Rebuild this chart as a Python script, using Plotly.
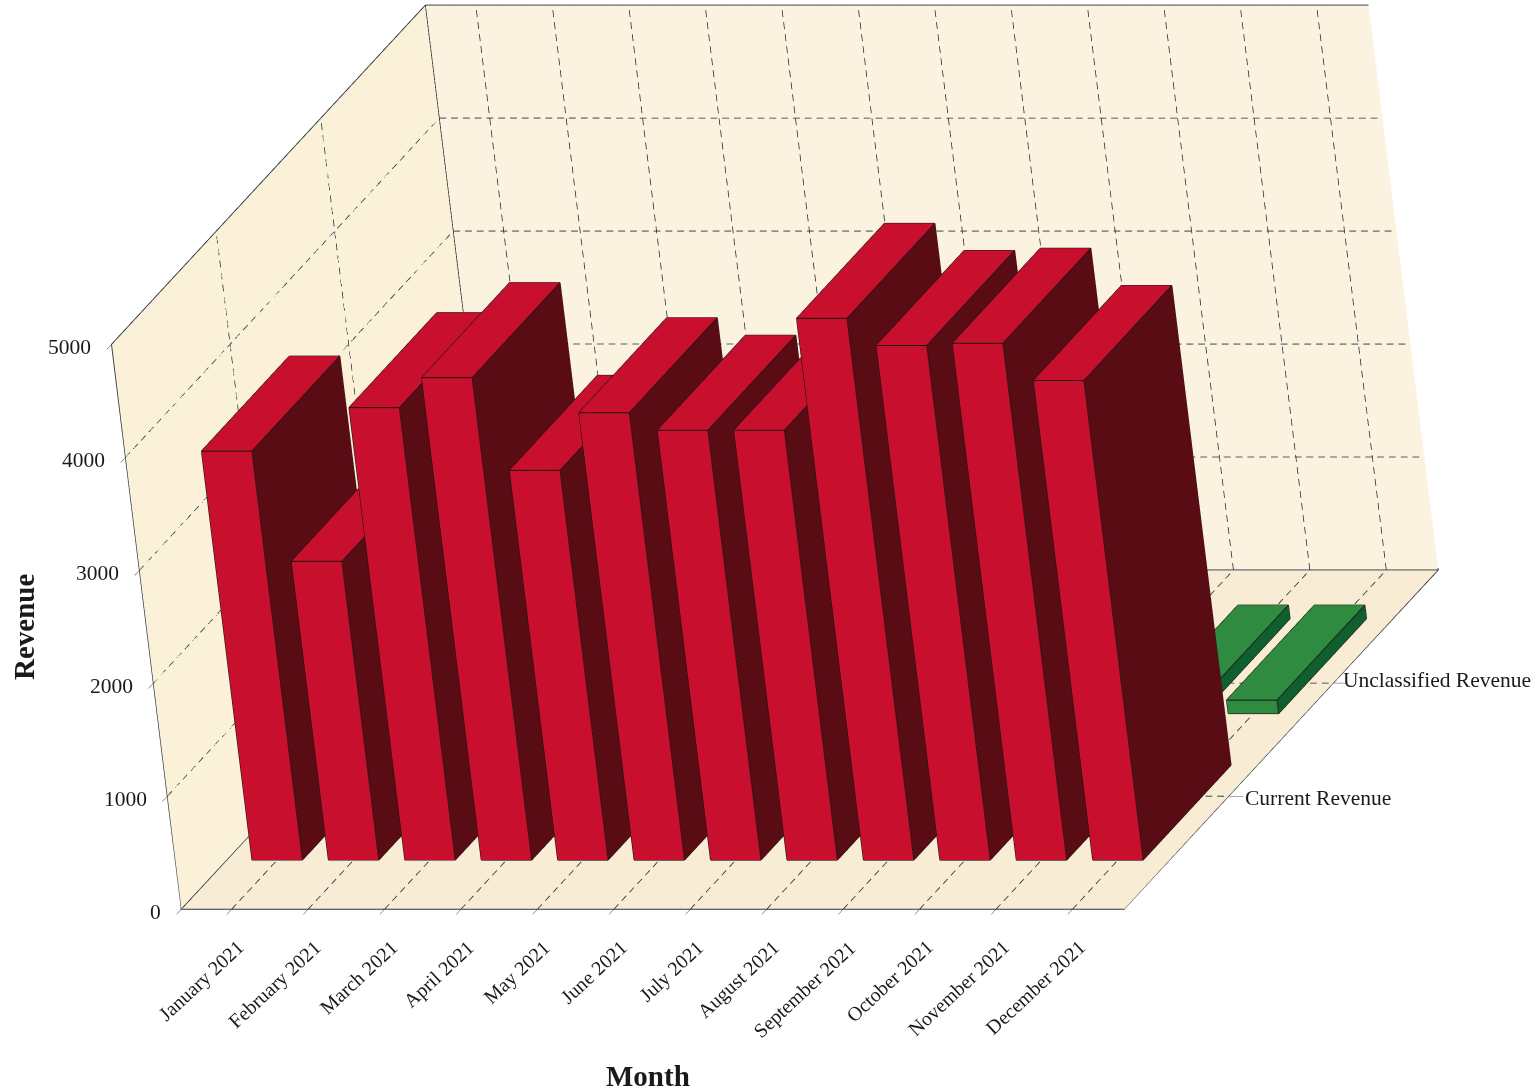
import plotly.graph_objects as go

months = ["January 2021","February 2021","March 2021","April 2021","May 2021","June 2021",
          "July 2021","August 2021","September 2021","October 2021","November 2021","December 2021"]
series = ["Current Revenue","Unclassified Revenue"]
current = [3620,2645,4005,4270,3450,3960,3805,3805,4795,4555,4575,4245]
unclassified = [0,0,0,0,0,0,0,0,0,0,120,120]
z_ticks = [0,1000,2000,3000,4000,5000]

FONT = "Liberation Serif"
INK = "#1a1a1a"
XR = (-0.66, 11.68); YR = (0, 3); ZR = (0, 5000)
Y_TICKS = [1, 2]
Y_LABEL_SHIFT = [(14,-2),(7,3)]
ROW_POS = [0.855, 2.15]
BW = 0.33; BD = 0.42
SCALE = 1.814
VIEW = (0.338,-0.884,0.323)
UP = (0,0.343,0.939)
CENTER = (-0.012,-0.059,-0.150)
DIST = 1.05

def bars(vals, row, c_front, c_top, c_side, name):
    xs, ys, zs, i, j, k, fc = [], [], [], [], [], [], []
    lx, ly, lz = [], [], []
    for c, v in enumerate(vals):
        if v <= 0:
            continue
        x0, x1, y0, y1 = c-BW, c+BW, row-BD, row+BD
        n = len(xs)
        xs += [x0,x1,x1,x0,x0,x1,x1,x0]
        ys += [y0,y0,y1,y1,y0,y0,y1,y1]
        zs += [0,0,0,0,v,v,v,v]
        faces = [((0,1,5),c_front),((0,5,4),c_front),((1,2,6),c_side),((1,6,5),c_side),
                 ((4,5,6),c_top),((4,6,7),c_top),((0,3,7),c_side),((0,7,4),c_side),
                 ((3,2,6),c_front),((3,6,7),c_front)]
        for (a,b,d),col in faces:
            i.append(n+a); j.append(n+b); k.append(n+d); fc.append(col)
        for a,b in [(0,1),(1,2),(4,5),(5,6),(6,7),(7,4),(0,4),(1,5),(2,6)]:
            lx += [xs[n+a],xs[n+b],None]; ly += [ys[n+a],ys[n+b],None]; lz += [zs[n+a],zs[n+b],None]
    return [go.Mesh3d(x=xs,y=ys,z=zs,i=i,j=j,k=k,facecolor=fc,flatshading=True,name=name,
                      lighting=dict(ambient=1,diffuse=0,specular=0,fresnel=0,roughness=1),hoverinfo="skip"),
            go.Scatter3d(x=lx,y=ly,z=lz,mode="lines",line=dict(color="#1c1210",width=2),hoverinfo="skip",showlegend=False)]

def seg(pairs):
    X,Y,Z=[],[],[]
    for a,b in pairs:
        X+=[a[0],b[0],None];Y+=[a[1],b[1],None];Z+=[a[2],b[2],None]
    return X,Y,Z

def dashed(pairs, n_by_axis=(80,40,47), duty=0.58):
    out=[]
    for a,b in pairs:
        ax_i = [m for m in range(3) if a[m]!=b[m]][0]
        n = n_by_axis[ax_i]
        for s in range(n):
            t0=s/n; t1=(s+duty)/n
            out.append((tuple(a[m]+(b[m]-a[m])*t0 for m in range(3)),
                        tuple(a[m]+(b[m]-a[m])*t1 for m in range(3))))
    return out

cats = list(range(len(months)))
grid = []
for t in z_ticks[1:]:
    grid += [((XR[0],YR[0],t),(XR[0],YR[1],t)),((XR[0],YR[1],t),(XR[1],YR[1],t))]
for c in cats:
    grid += [((c,YR[0],0),(c,YR[1],0)),((c,YR[1],0),(c,YR[1],ZR[1]))]
for r in Y_TICKS:
    grid += [((XR[0],r,0),(XR[1],r,0)),((XR[0],r,0),(XR[0],r,ZR[1]))]
gx,gy,gz = seg(dashed(grid))

frame = [((XR[0],YR[0],0),(XR[1],YR[0],0)),((XR[1],YR[0],0),(XR[1],YR[1],0)),
         ((XR[0],YR[0],0),(XR[0],YR[1],0)),((XR[0],YR[1],0),(XR[1],YR[1],0)),
         ((XR[0],YR[0],0),(XR[0],YR[0],ZR[1])),((XR[0],YR[0],ZR[1]),(XR[0],YR[1],ZR[1])),
         ((XR[0],YR[1],0),(XR[0],YR[1],ZR[1])),((XR[0],YR[1],ZR[1]),(XR[1],YR[1],ZR[1])),
         ((XR[1],YR[1],0),(XR[1],YR[1],ZR[1]))]
fx,fy,fz = seg(frame)

data = [go.Scatter3d(x=gx,y=gy,z=gz,mode="lines",line=dict(color="#1d2d40",width=1.6),hoverinfo="skip",showlegend=False),
        go.Scatter3d(x=fx,y=fy,z=fz,mode="lines",line=dict(color="#2a343a",width=1.8),hoverinfo="skip",showlegend=False)]
data += bars(current,ROW_POS[0],"#C8102E","#C8102E","#5A0C14",series[0])
data += bars(unclassified,ROW_POS[1],"#2E8B40","#2E8B40","#0F5F30",series[1])

def ax(bg, **kw):
    d = dict(showgrid=False,zeroline=False,showbackground=True,backgroundcolor=bg,
             showline=True,linecolor="#2a343a",linewidth=1,ticks="outside",ticklen=15,tickcolor="#222",tickwidth=1,
             showspikes=False,showticklabels=False,title=dict(text=""))
    d.update(kw); return d

lab = dict(family=FONT,size=21.5,color=INK)
mon = dict(family=FONT,size=20,color=INK)
annos = []
for c,m in zip(cats,months):
    annos.append(dict(x=c,y=YR[0],z=0,text=m,textangle=-43,xanchor="right",yanchor="top",xshift=20,yshift=-24,showarrow=False,font=mon))
for r,s,(sx,sy) in zip(Y_TICKS,series,Y_LABEL_SHIFT):
    annos.append(dict(x=XR[1],y=r,z=0,text=s,xanchor="left",yanchor="middle",xshift=sx,yshift=sy,showarrow=False,font=lab))
for t in z_ticks:
    annos.append(dict(x=XR[0],y=YR[0],z=t,text=str(t),xanchor="right",yanchor="middle",xshift=-18,yshift=-3,showarrow=False,font=lab))

fig = go.Figure(data)
fig.update_layout(
    width=1536,height=1090,
    paper_bgcolor="white",margin=dict(l=0,r=0,t=0,b=0),showlegend=False,
    scene=dict(
        domain=dict(x=[0,1],y=[0,1]),dragmode="orbit",
        aspectmode="manual",aspectratio=dict(x=1.0137*SCALE,y=1*SCALE,z=0.6083*SCALE),
        camera=dict(projection=dict(type="orthographic"),
                    eye=dict(x=CENTER[0]+VIEW[0]*DIST,y=CENTER[1]+VIEW[1]*DIST,z=CENTER[2]+VIEW[2]*DIST),
                    up=dict(x=UP[0],y=UP[1],z=UP[2]),center=dict(x=CENTER[0],y=CENTER[1],z=CENTER[2])),
        xaxis=ax("#FBF1D9",range=list(XR),tickmode="array",tickvals=cats),
        yaxis=ax("#FBF3DF",range=list(YR),tickmode="array",tickvals=Y_TICKS),
        zaxis=ax("#F9ECD4",range=list(ZR),tickmode="array",tickvals=z_ticks),
        annotations=annos,
    ),
    annotations=[
        dict(text="<b>Month</b>",x=648/1536,y=1-1076/1090,xref="paper",yref="paper",xanchor="center",yanchor="middle",showarrow=False,font=dict(family=FONT,size=29,color=INK)),
        dict(text="<b>Revenue</b>",x=24/1536,y=1-627/1090,xref="paper",yref="paper",xanchor="center",yanchor="middle",textangle=-90,showarrow=False,font=dict(family=FONT,size=29,color=INK)),
    ],
)
fig.write_html("out.html", post_script="document.body.style.margin='0';", config={"displayModeBar":False})
